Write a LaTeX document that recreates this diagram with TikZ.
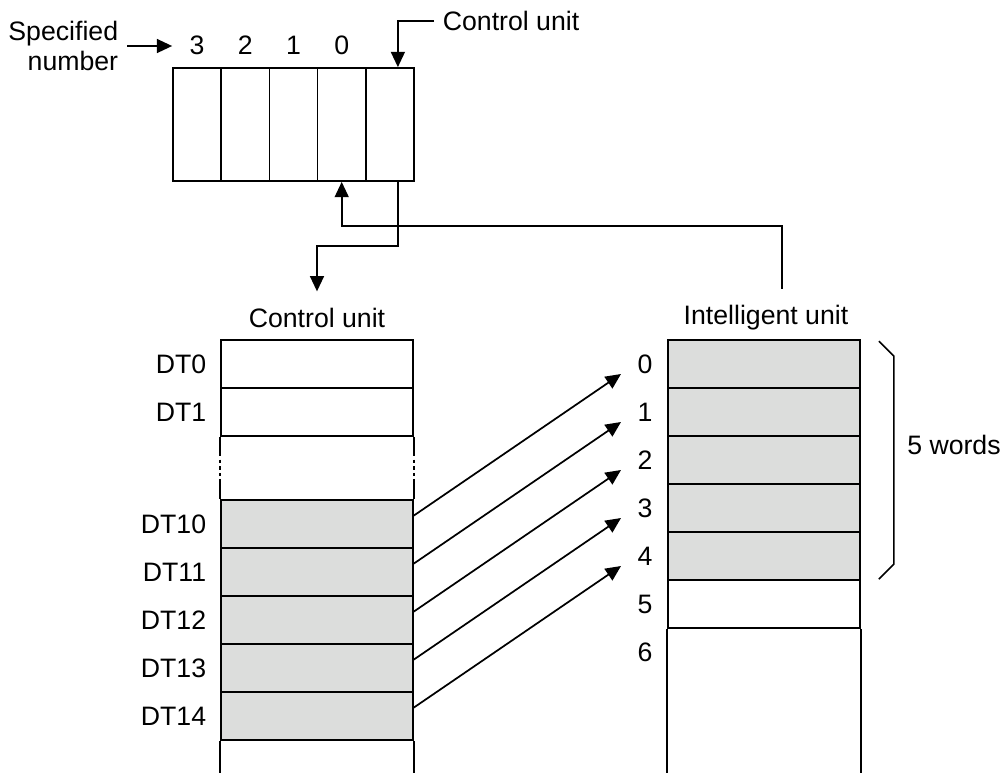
\documentclass[tikz,border=0pt]{standalone}
\usepackage{fontspec}
\setmainfont{Liberation Sans}
\usetikzlibrary{arrows.meta,calc}
\definecolor{cellgray}{HTML}{DCDDDC}

\newcommand{\breakside}[2]{\draw (#1) -- ++(0,16);
        \draw[dash pattern=on 2.5pt off 2.5pt] ($(#1)+(0,16)$) -- ++(0,26);
        \draw ($(#1)+(0,42)$) -- (#2);
    }

\begin{document}
\begin{tikzpicture}
                [x=0.75pt,y=-0.75pt,line width=1.3pt,
                cell/.style={rectangle,draw=black,minimum width=144pt,minimum height=36pt,inner sep=0pt},
                slot/.style={rectangle,draw=black,minimum width=36.15pt,minimum height=84.75pt,inner sep=0pt},
                arrow/.style={-{Triangle[length=11.5pt,width=10.5pt]}},
                lbl/.style={inner sep=6pt,font=\fontsize{20pt}{22pt}\selectfont},
                ]
                \useasboundingbox (0,0) rectangle (1007,772);
                % rack
                \foreach \n [count=\k from 0] in {s3,s2,s1,s0,cu} \node[slot] (\n) at (197.1+48.2*\k,124.5){};
                \foreach \t [count=\k from 0] in {3,2,1,0} \node[lbl] (num\t) at (197.1+48.2*\k,45){\t};
                \node[lbl,anchor=east,align=right] (spec) at (127,46) {Specified\\number};
                \draw[arrow] (spec.east) -- (spec.east -| s3.west);
                \node[lbl,anchor=west] (cutop) at (434,21) {Control unit};
                \draw[arrow] (cutop.west) -| ([xshift=6pt]cu.north);

                % control unit
                \node[lbl] (cul) at (317,318) {Control unit};
                \node[cell] (c0) at (317,364){};
                \node[cell] (c1) at (317,412){};
                \foreach \i [count=\k from 0] in {10,...,14} \node[cell,fill=cellgray] (c\i) at (317,524+48*\k){};
                \breakside{c1.south west}{c10.north west}
                \breakside{c1.south east}{c10.north east}
                \draw (c14.south west) -- ++(0,32);
                \draw (c14.south east) -- ++(0,32);
                \foreach \i/\y in {0/364,1/412,10/524,11/572,12/620,13/668,14/716}
                    \node[lbl,anchor=east] (dt\i) at (215,\y){DT\i};

                % intelligent unit
                \node[lbl] (iul) at (766,318) {Intelligent unit};
                \foreach \i in {0,...,4} \node[cell,fill=cellgray] (w\i) at (764,364+48*\i){};
                \node[cell] (w5) at (764,604){};
                \draw (w5.south west) -- ++(0,144);
                \draw (w5.south east) -- ++(0,144);
                \foreach \i in {0,...,6} \node[lbl] (addr\i) at (645,364+48*\i){\i};
                \draw[line width=1.1pt] (w0.north east) ++(18,2) -- ++(15,15) -- ++(0,208) -- ++(-15,15);
                \node[lbl] (words) at (954,445) {5 words};

                % transfer
                \foreach \i [count=\k from 0] in {10,...,14}{
                    \coordinate (tip\k) at (621,374+48*\k);
                    \draw[arrow] ($(c\i.north east)!0.33!(c\i.south east)$) -- (tip\k);
                }
                \draw[arrow] ([xshift=6pt]cu.south) -- ++(0,64) -| ([yshift=6pt]cul.north);
                \draw[arrow] ([xshift=12pt,yshift=6pt]iul.north) -- ++(0,-63) -| (s0.south);
            \end{tikzpicture}
\end{document}
